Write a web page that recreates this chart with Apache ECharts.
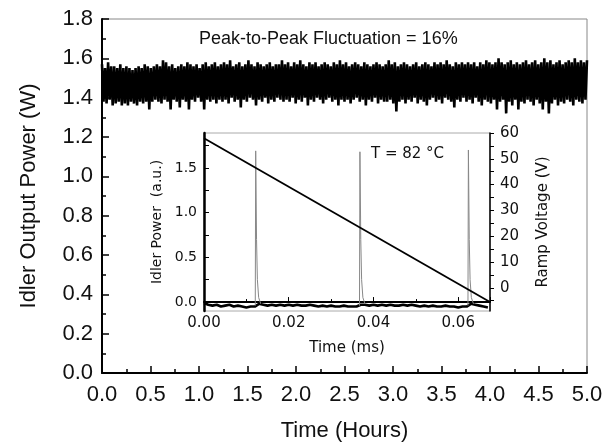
<!DOCTYPE html>
<html><head><meta charset="utf-8">
<script src="https://cdn.jsdelivr.net/npm/echarts@6/dist/echarts.min.js"></script>
<style>html,body{margin:0;padding:0;background:#fff}#c{width:613px;height:447px}</style>
</head><body><div id="c"></div>
<script>
// Main plot: idler output power band, upper and lower excursions (W), read left to right over 0–5 h
const upperW = [
1.57,1.55,1.58,1.56,1.56,1.55,1.57,1.55,1.56,1.55,1.54,1.55,1.56,1.55,1.57,1.56,1.55,1.56,1.57,1.56,
1.59,1.58,1.56,1.57,1.55,1.56,1.57,1.56,1.58,1.57,1.56,1.57,1.55,1.57,1.58,1.56,1.57,1.58,1.56,1.57,
1.58,1.57,1.59,1.56,1.57,1.58,1.56,1.57,1.59,1.57,1.56,1.58,1.57,1.56,1.57,1.58,1.56,1.57,1.57,1.59,
1.57,1.58,1.56,1.58,1.57,1.59,1.57,1.56,1.58,1.57,1.58,1.56,1.57,1.58,1.57,1.56,1.58,1.57,1.59,1.57,
1.58,1.56,1.57,1.58,1.57,1.56,1.58,1.57,1.56,1.57,1.58,1.57,1.56,1.57,1.59,1.57,1.58,1.56,1.57,1.58,
1.57,1.56,1.57,1.58,1.56,1.57,1.58,1.57,1.56,1.58,1.57,1.58,1.57,1.59,1.57,1.56,1.58,1.57,1.58,1.57,
1.58,1.57,1.58,1.56,1.58,1.57,1.59,1.58,1.57,1.58,1.60,1.58,1.57,1.58,1.59,1.57,1.58,1.57,1.58,1.59,
1.57,1.58,1.59,1.57,1.58,1.60,1.58,1.59,1.57,1.58,1.59,1.57,1.58,1.59,1.58,1.60,1.58,1.59,1.58,1.59
];
const lowerW = [
1.38,1.37,1.39,1.36,1.37,1.38,1.36,1.37,1.36,1.38,1.37,1.36,1.38,1.37,1.38,1.34,1.38,1.39,1.38,1.37,
1.39,1.38,1.34,1.39,1.38,1.35,1.39,1.38,1.34,1.39,1.38,1.40,1.38,1.34,1.39,1.38,1.39,1.37,1.39,1.38,
1.39,1.37,1.40,1.38,1.39,1.35,1.39,1.38,1.40,1.39,1.36,1.39,1.38,1.40,1.37,1.39,1.38,1.40,1.39,1.38,
1.39,1.38,1.40,1.37,1.39,1.38,1.40,1.36,1.39,1.38,1.40,1.39,1.37,1.39,1.40,1.38,1.39,1.36,1.39,1.38,
1.39,1.37,1.39,1.40,1.38,1.39,1.36,1.39,1.38,1.40,1.37,1.39,1.38,1.38,1.39,1.37,1.33,1.38,1.39,1.37,
1.39,1.38,1.40,1.37,1.39,1.38,1.36,1.39,1.40,1.38,1.39,1.37,1.40,1.39,1.38,1.35,1.39,1.38,1.40,1.38,
1.39,1.37,1.40,1.38,1.36,1.39,1.38,1.37,1.39,1.34,1.38,1.39,1.32,1.38,1.36,1.39,1.34,1.38,1.37,1.39,
1.38,1.36,1.39,1.37,1.34,1.38,1.32,1.37,1.39,1.36,1.38,1.37,1.39,1.38,1.36,1.39,1.38,1.37,1.39,1.32
];
const hoursSpan = [0, 5];

// Inset: baseline of idler power (a.u.) sampled every 0.001 ms from 0 to 0.067 ms
const baseTimeMs = [];
for (let i = 0; i <= 67; i++) baseTimeMs.push(+(i * 0.001).toFixed(3));
const basePower = [
-0.01,-0.03,-0.04,-0.03,-0.05,-0.04,-0.03,-0.05,-0.04,-0.05,-0.06,-0.05,
-0.05,-0.02,-0.03,-0.04,-0.03,-0.04,-0.03,-0.04,
-0.03,-0.04,-0.03,-0.04,-0.04,-0.03,-0.04,-0.05,-0.04,-0.05,-0.04,-0.05,-0.05,-0.04,-0.05,-0.05,
-0.05,-0.03,-0.03,-0.04,-0.03,-0.04,-0.03,-0.04,-0.03,-0.04,-0.04,-0.03,
-0.04,-0.03,-0.04,-0.05,-0.04,-0.05,-0.04,-0.05,-0.05,-0.04,-0.05,-0.05,-0.06,-0.05,
-0.05,-0.02,-0.03,-0.04,-0.05,-0.06
];
// Inset: the three transmission peaks (time ms, power a.u.)
const peak1 = [[0.0121,-0.04],[0.0122,1.69],[0.0124,0.70],[0.0126,0.25],[0.0129,0.05],[0.0134,-0.02]];
const peak2 = [[0.0367,-0.04],[0.0368,1.68],[0.0370,0.70],[0.0372,0.25],[0.0375,0.05],[0.0380,-0.02]];
const peak3 = [[0.0623,-0.04],[0.0624,1.70],[0.0626,0.70],[0.0628,0.25],[0.0631,0.05],[0.0636,-0.02]];
// Inset: ramp voltage (V) at start and end of the sweep
const rampTimeMs = [0, 0.0675];
const rampVolt = [58, -5.5];

const insetPowerTicks = [0, 0.5, 1.0, 1.5];
const insetPowerTickMarks = [0, 0.25, 0.5, 0.75, 1.0, 1.25, 1.5, 1.75];
const insetVoltTicks = [0, 10, 20, 30, 40, 50, 60];
const insetVoltTickMarks = [-5, 0, 5, 10, 15, 20, 25, 30, 35, 40, 45, 50, 55, 60];

// build series data
const n = upperW.length;
const bandData = [];
for (let i = 0; i < n; i++) {
  const t = hoursSpan[0] + (hoursSpan[1] - hoursSpan[0]) * i / (n - 1);
  const t2 = hoursSpan[0] + (hoursSpan[1] - hoursSpan[0]) * (i + 0.5) / (n - 1);
  bandData.push([t, upperW[i]]);
  if (i < n - 1) bandData.push([t2, lowerW[i]]);
}
const baseData = baseTimeMs.map((t, i) => [t, basePower[i]]);
const peaksData = [].concat(peak1, [[null, null]], peak2, [[null, null]], peak3);
const rampData = rampTimeMs.map((t, i) => [t, rampVolt[i]]);

const F = 'Liberation Sans, Arial, sans-serif';
const FI = 'DejaVu Sans, sans-serif';

const chart = echarts.init(document.getElementById('c'), null, {renderer: 'canvas'});
chart.setOption({
  animation: false,
  backgroundColor: '#fff',
  title: {
    text: 'Peak-to-Peak Fluctuation = 16%',
    left: 199, top: 30, padding: 0,
    textStyle: {fontFamily: F, fontSize: 18, fontWeight: 'normal', color: '#111'}
  },
  grid: [
    {left: 102, top: 19, width: 485, height: 357, show: true, borderColor: '#888', borderWidth: 1, backgroundColor: 'transparent'},
    {left: 204, top: 133, width: 286, height: 178, show: true, borderColor: '#aaa', borderWidth: 1, backgroundColor: '#fff', z: 5}
  ],
  xAxis: [
    {
      gridIndex: 0, type: 'value', min: 0, max: 5, interval: 0.5,
      name: 'Time (Hours)', nameLocation: 'middle', nameGap: 47,
      nameTextStyle: {fontFamily: F, fontSize: 22, color: '#111'},
      axisLine: {lineStyle: {color: '#000', width: 2}},
      axisTick: {inside: true, length: 7, lineStyle: {color: '#000', width: 1.5}},
      minorTick: {show: true, splitNumber: 2, length: 4, lineStyle: {color: '#000', width: 1.5}},
      splitLine: {show: false},
      axisLabel: {fontFamily: F, fontSize: 22, color: '#111', margin: 11, formatter: v => v.toFixed(1)}
    },
    {
      gridIndex: 1, type: 'value', min: 0, max: 0.0675, interval: 0.02,
      name: 'Time (ms)', nameLocation: 'middle', nameGap: 30,
      nameTextStyle: {fontFamily: FI, fontSize: 15, color: '#111'},
      axisLine: {lineStyle: {color: '#000', width: 2}},
      axisTick: {inside: true, length: 5, lineStyle: {color: '#000'}},
      minorTick: {show: true, splitNumber: 2, length: 3, lineStyle: {color: '#000'}},
      splitLine: {show: false},
      axisLabel: {fontFamily: FI, fontSize: 15, color: '#111', margin: 5, showMaxLabel: false, formatter: v => v.toFixed(2)},
      z: 6
    }
  ],
  yAxis: [
    {
      gridIndex: 0, type: 'value', min: 0, max: 1.8, interval: 0.2,
      name: 'Idler Output Power (W)', nameLocation: 'middle', nameGap: 62,
      nameTextStyle: {fontFamily: F, fontSize: 22, color: '#111'},
      axisLine: {lineStyle: {color: '#000', width: 2}},
      axisTick: {inside: true, length: 7, lineStyle: {color: '#000', width: 1.5}},
      minorTick: {show: true, splitNumber: 2, length: 4, lineStyle: {color: '#000', width: 1.5}},
      splitLine: {show: false},
      axisLabel: {fontFamily: F, fontSize: 22, color: '#111', margin: 9, formatter: v => v.toFixed(1)}
    },
    {
      gridIndex: 1, type: 'value', min: -0.1, max: 1.89, position: 'left',
      name: 'Idler Power  (a.u.)', nameLocation: 'middle', nameGap: 40,
      nameTextStyle: {fontFamily: FI, fontSize: 14, color: '#111'},
      axisLine: {lineStyle: {color: '#000', width: 2.5}},
      axisTick: {inside: true, length: 5, customValues: insetPowerTickMarks, lineStyle: {color: '#000'}},
      splitLine: {show: false},
      axisLabel: {fontFamily: FI, fontSize: 14, color: '#111', margin: 7, customValues: insetPowerTicks, formatter: v => v.toFixed(1)},
      z: 6
    },
    {
      gridIndex: 1, type: 'value', min: -9, max: 60, position: 'right',
      name: 'Ramp Voltage (V)', nameLocation: 'middle', nameGap: 46, nameRotate: 90,
      nameTextStyle: {fontFamily: FI, fontSize: 15, color: '#111'},
      axisLine: {lineStyle: {color: '#000', width: 1.5}},
      axisTick: {inside: false, length: 4, customValues: insetVoltTickMarks, lineStyle: {color: '#000'}},
      splitLine: {show: false},
      axisLabel: {fontFamily: FI, fontSize: 15, color: '#111', margin: 10, customValues: insetVoltTicks},
      z: 6
    }
  ],
  graphic: [
    {type: 'text', left: 371, top: 147, z: 100,
     style: {text: 'T = 82 °C', fontFamily: FI, fontSize: 15, fill: '#111'}}
  ],
  series: [
    {type: 'line', xAxisIndex: 0, yAxisIndex: 0, data: bandData, showSymbol: false,
     lineStyle: {color: '#000', width: 2.6}, z: 2},
    {type: 'line', xAxisIndex: 1, yAxisIndex: 1, data: baseData, showSymbol: false,
     lineStyle: {color: '#000', width: 2.6}, z: 7},
    {type: 'line', xAxisIndex: 1, yAxisIndex: 1, data: peaksData, showSymbol: false, connectNulls: false,
     lineStyle: {color: '#888', width: 1}, z: 7},
    {type: 'line', xAxisIndex: 1, yAxisIndex: 2, data: rampData, showSymbol: false,
     lineStyle: {color: '#000', width: 1.8}, z: 8}
  ]
});
</script>
</body></html>
